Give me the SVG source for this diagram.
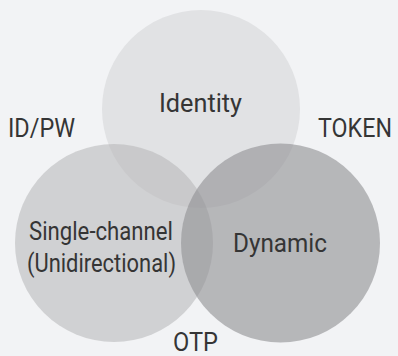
<svg xmlns="http://www.w3.org/2000/svg" width="398" height="356" viewBox="0 0 398 356">
<style>
.t{font-family:Roboto,"Noto Sans",sans-serif;font-size:26px;fill:#353535;text-anchor:middle}
</style>
<rect width="398" height="356" fill="#f2f3f5"/>
<g id="identity">
<circle cx="201" cy="109" r="99" fill="#e1e2e4"/>
<text class="t" x="200.5" y="112" textLength="83" lengthAdjust="spacingAndGlyphs">Identity</text>
</g>
<g id="single-channel">
<circle cx="114" cy="243" r="99" fill="#b5b6b8" fill-opacity="0.56"/>
<text class="t" x="101" y="240" textLength="144" lengthAdjust="spacingAndGlyphs">Single-channel</text>
<text class="t" x="101.5" y="272" textLength="149" lengthAdjust="spacingAndGlyphs">(Unidirectional)</text>
</g>
<g id="dynamic">
<circle cx="280.5" cy="243" r="99.5" fill="#919295" fill-opacity="0.62"/>
<text class="t" x="280" y="252" textLength="94" lengthAdjust="spacingAndGlyphs">Dynamic</text>
</g>
<g id="labels">
<text class="t" x="41.5" y="137" textLength="67" lengthAdjust="spacingAndGlyphs">ID/PW</text>
<text class="t" x="355" y="137" font-size="25" textLength="74" lengthAdjust="spacingAndGlyphs">TOKEN</text>
<text class="t" x="195.5" y="351" font-size="24" textLength="45" lengthAdjust="spacingAndGlyphs">OTP</text>
</g>
<g id="connectors"/>
</svg>
